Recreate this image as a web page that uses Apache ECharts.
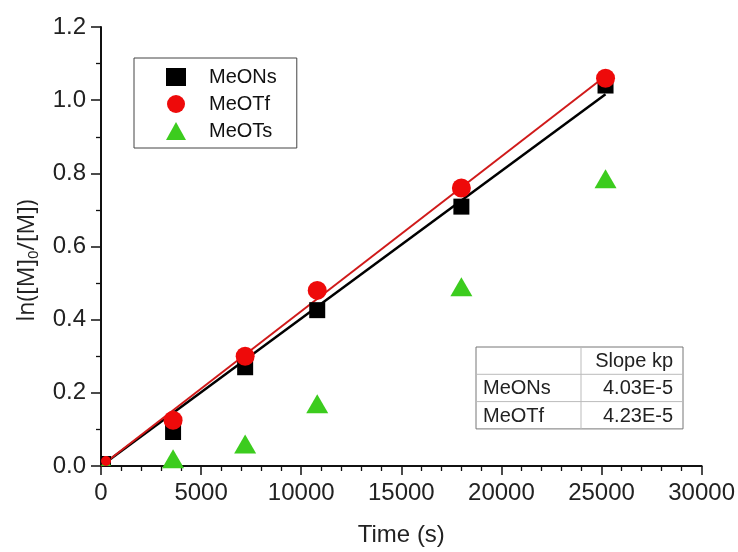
<!DOCTYPE html>
<html>
<head>
<meta charset="utf-8">
<script src="https://cdn.jsdelivr.net/npm/echarts@6/dist/echarts.min.js"></script>
<style>
  html, body { margin: 0; padding: 0; background: #fff; }
  #chart { width: 738px; height: 552px; }
</style>
</head>
<body>
<div id="chart"></div>
<script>
// sampling times (s)
var times = [0, 3600, 7200, 10800, 18000, 25200];
// ln([M]0/[M])
var meONs = [0, 0.093, 0.27, 0.426, 0.709, 1.04];
var meOTf = [0, 0.125, 0.30, 0.48, 0.76, 1.06];
var meOTs = [0, 0.02, 0.06, 0.17, 0.49, 0.785];
// linear fits (end points)
var fitONs = [[0, 0], [25200, 1.016]];
var fitOTf = [[0, 0], [25200, 1.066]];
// slope table
var tableHead = ['', 'Slope kp'];
var tableRows = [['MeONs', '4.03E-5'], ['MeOTf', '4.23E-5']];

// the point at the origin is cut by the axes in the original, only a quarter shows
function pairs(ys) {
    return times.map(function (t, i) {
        if (t === 0) return {value: [t, ys[i]], symbolSize: 10, symbolOffset: [5, -5]};
        return [t, ys[i]];
    });
}

var FONT = '"Liberation Sans", Arial, sans-serif';
var chart = echarts.init(document.getElementById('chart'));

// table drawn as graphic
var tx = 476, ty = 347, tw = 207, rowH = 27.3, colX = 581;
var tableEls = [
    {type: 'rect', shape: {x: tx, y: ty, width: tw, height: rowH * 3}, style: {fill: '#fff', stroke: '#777', lineWidth: 1}},
    {type: 'line', shape: {x1: tx, y1: ty + rowH, x2: tx + tw, y2: ty + rowH}, style: {stroke: '#bbb', lineWidth: 1}},
    {type: 'line', shape: {x1: tx, y1: ty + rowH * 2, x2: tx + tw, y2: ty + rowH * 2}, style: {stroke: '#bbb', lineWidth: 1}},
    {type: 'line', shape: {x1: colX, y1: ty, x2: colX, y2: ty + rowH * 3}, style: {stroke: '#bbb', lineWidth: 1}},
    {type: 'text', x: tx + tw - 10, y: ty + rowH / 2 + 1, style: {text: tableHead[1], font: '20px ' + FONT, fill: '#222', align: 'right', verticalAlign: 'middle'}}
];
tableRows.forEach(function (r, i) {
    var cy = ty + rowH * (i + 1.5) + 1;
    tableEls.push({type: 'text', x: tx + 7, y: cy, style: {text: r[0], font: '20px ' + FONT, fill: '#222', align: 'left', verticalAlign: 'middle'}});
    tableEls.push({type: 'text', x: tx + tw - 10, y: cy, style: {text: r[1], font: '20px ' + FONT, fill: '#222', align: 'right', verticalAlign: 'middle'}});
});

chart.setOption({
    animation: false,
    backgroundColor: '#fff',
    grid: {left: 101, right: 36, top: 27, bottom: 83},
    legend: {
        orient: 'vertical',
        left: 134, top: 58,
        padding: [9, 20, 7, 32],
        itemGap: 7,
        itemWidth: 20, itemHeight: 18,
        borderColor: '#444', borderWidth: 1,
        textStyle: {fontFamily: FONT, fontSize: 20, color: '#111', padding: [0, 0, 0, 18]},
        data: ['MeONs', 'MeOTf', 'MeOTs']
    },
    xAxis: {
        type: 'value', min: 0, max: 30000, interval: 5000,
        name: 'Time (s)', nameLocation: 'middle', nameGap: 57,
        nameTextStyle: {fontFamily: FONT, fontSize: 24, color: '#222'},
        axisLine: {lineStyle: {color: '#111', width: 2}},
        axisTick: {length: 9, lineStyle: {color: '#111', width: 1.5}},
        minorTick: {show: true, splitNumber: 5, length: 5, lineStyle: {color: '#111', width: 1.3}},
        axisLabel: {fontFamily: FONT, fontSize: 24, color: '#222', margin: 15,
            formatter: function (v) { return String(v); }},
        splitLine: {show: false}
    },
    yAxis: {
        type: 'value', min: 0, max: 1.2, interval: 0.2,
        name: 'ln([M]{sub|0}/[M])', nameLocation: 'middle', nameGap: 60,
        nameTextStyle: {
            fontFamily: '"Open Sans", sans-serif', fontSize: 23, color: '#222',
            padding: [0, 28, 0, 0],
            rich: {sub: {fontFamily: '"Open Sans", sans-serif', fontSize: 15, color: '#222', verticalAlign: 'bottom', padding: [12, 0, 0, 0]}}
        },
        axisLine: {show: true, lineStyle: {color: '#111', width: 2}},
        axisTick: {show: true, length: 10, lineStyle: {color: '#111', width: 1.5}},
        minorTick: {show: true, splitNumber: 2, length: 5, lineStyle: {color: '#111', width: 1.3}},
        axisLabel: {fontFamily: FONT, fontSize: 24, color: '#222', margin: 15,
            formatter: function (v) { return v.toFixed(1); }},
        splitLine: {show: false}
    },
    series: [
        {name: 'fitONs', type: 'line', data: fitONs, symbol: 'none', lineStyle: {color: '#000', width: 2.5}, z: 2},
        {name: 'fitOTf', type: 'line', data: fitOTf, symbol: 'none', lineStyle: {color: '#d01a1a', width: 2}, z: 2},
        {name: 'MeONs', type: 'scatter', data: pairs(meONs), symbol: 'rect', symbolSize: 16, itemStyle: {color: '#000', opacity: 1}, z: 3},
        {name: 'MeOTs', type: 'scatter', data: pairs(meOTs), symbol: 'triangle', symbolSize: [22, 19], itemStyle: {color: '#3ccc1e', opacity: 1}, z: 3},
        {name: 'MeOTf', type: 'scatter', data: pairs(meOTf), symbol: 'circle', symbolSize: 19, itemStyle: {color: '#ee0a0a', opacity: 1}, z: 4}
    ],
    graphic: tableEls
});
</script>
</body>
</html>
